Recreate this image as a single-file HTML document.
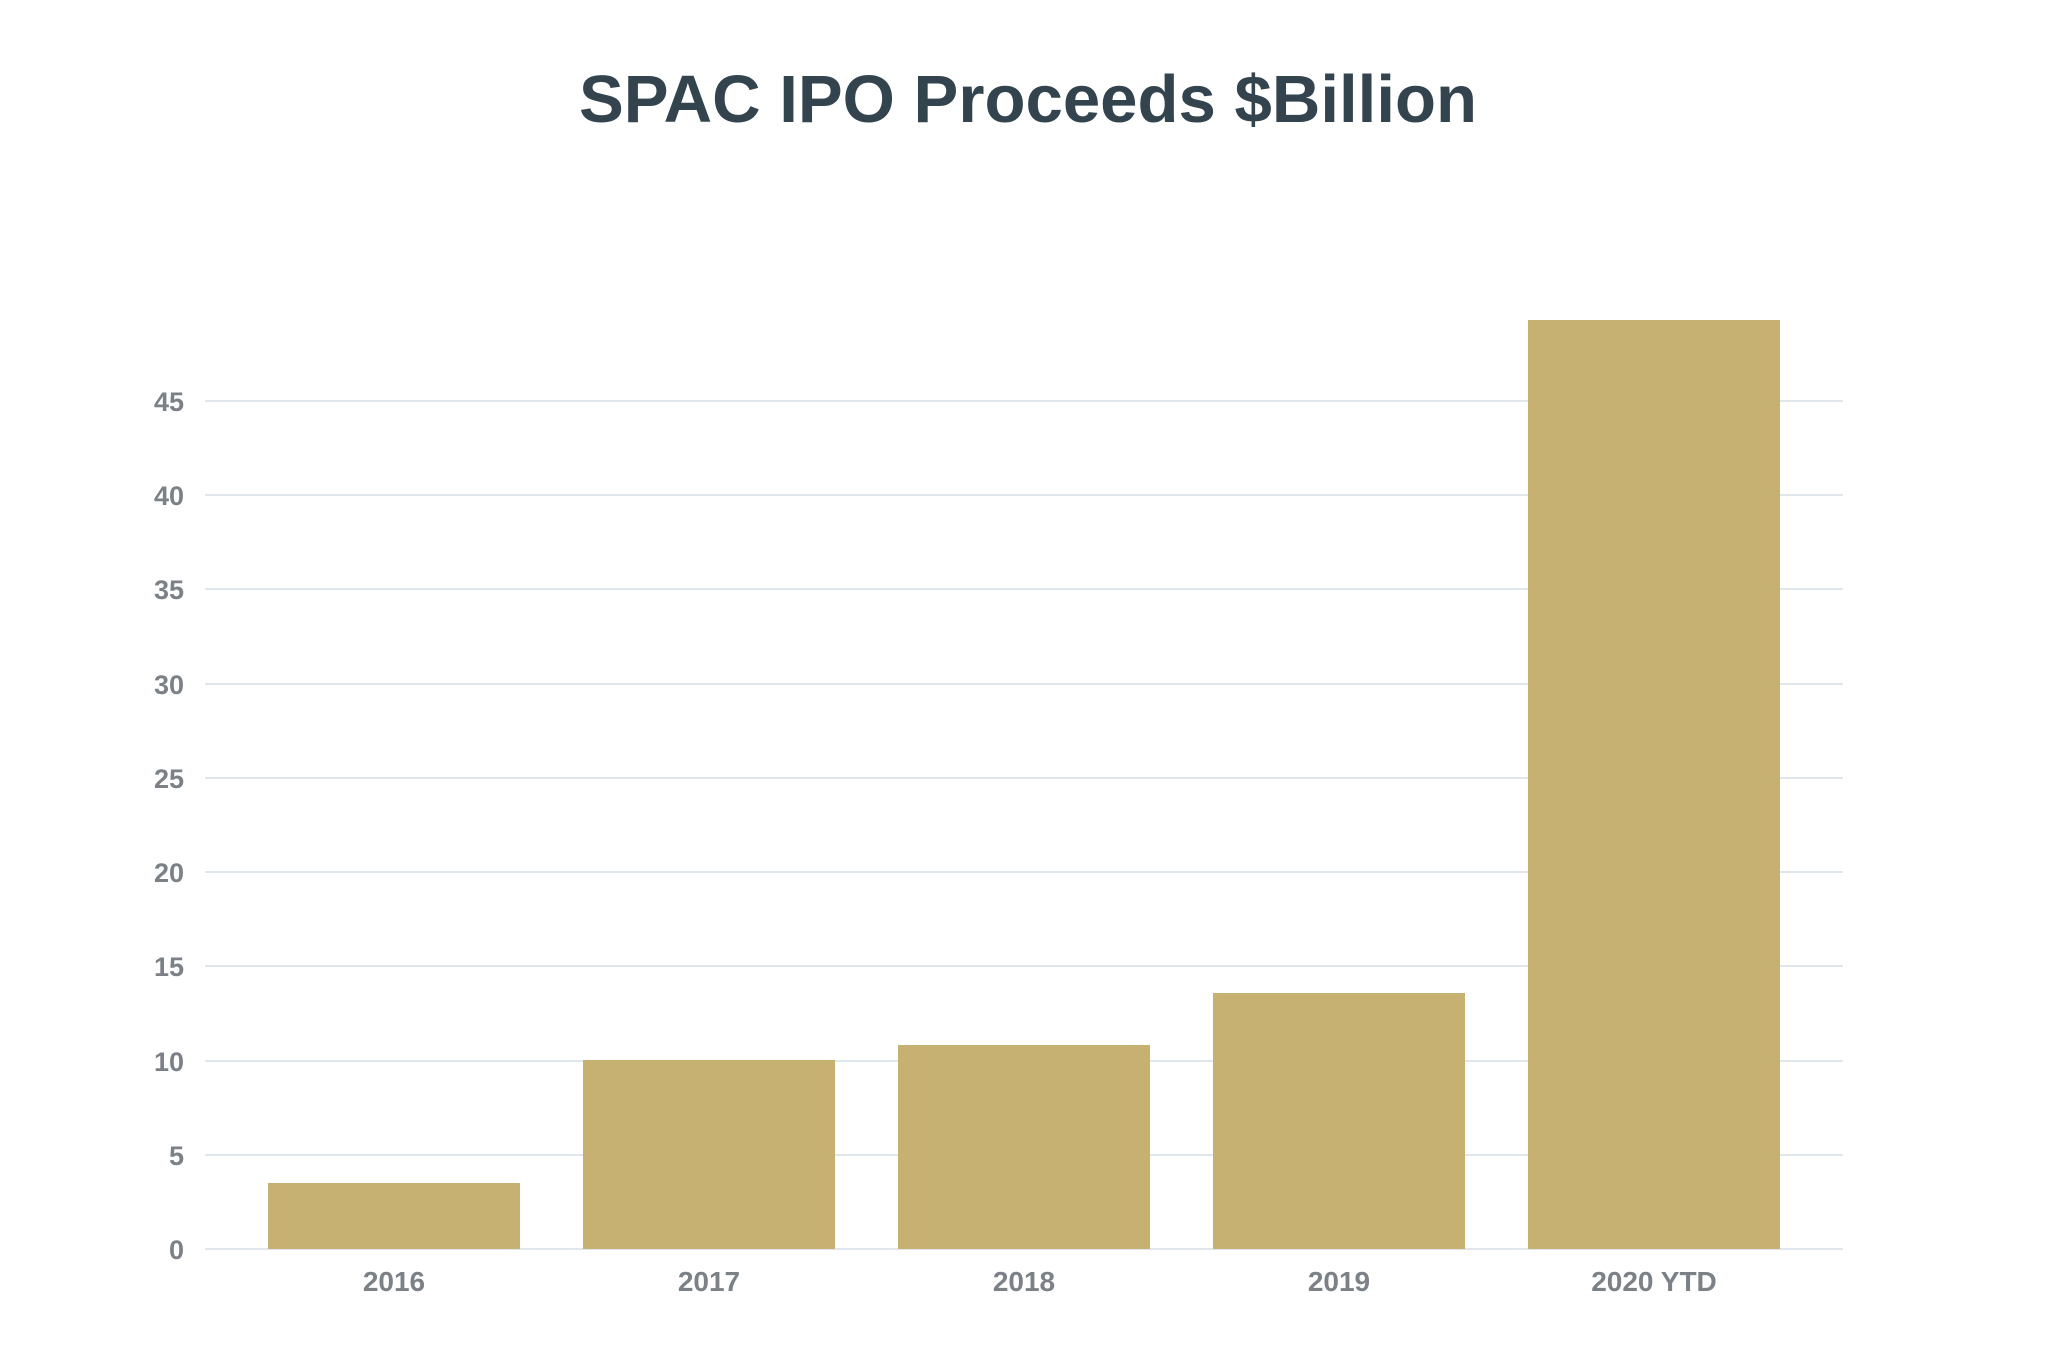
<!DOCTYPE html>
<html><head><style>
body{margin:0;background:#fff;}
</style></head><body>
<svg width="2048" height="1364" xmlns="http://www.w3.org/2000/svg" style="display:block">
<rect width="2048" height="1364" fill="#fff"/>
<text x="1028" y="122" text-anchor="middle" font-family="Liberation Sans, sans-serif" font-weight="bold" font-size="67" fill="#33444e" textLength="898" lengthAdjust="spacingAndGlyphs">SPAC IPO Proceeds $Billion</text>
<g stroke="#dfe6ec" stroke-width="2">
<line x1="205" x2="1843" y1="401" y2="401"/>
<line x1="205" x2="1843" y1="495" y2="495"/>
<line x1="205" x2="1843" y1="589" y2="589"/>
<line x1="205" x2="1843" y1="684" y2="684"/>
<line x1="205" x2="1843" y1="778" y2="778"/>
<line x1="205" x2="1843" y1="872" y2="872"/>
<line x1="205" x2="1843" y1="966" y2="966"/>
<line x1="205" x2="1843" y1="1061" y2="1061"/>
<line x1="205" x2="1843" y1="1155" y2="1155"/>
<line x1="205" x2="1843" y1="1249" y2="1249"/>
</g>
<g font-family="Liberation Sans, sans-serif" font-weight="bold" font-size="27" fill="#7b8187" text-anchor="end">
<text x="184" y="411">45</text>
<text x="184" y="505">40</text>
<text x="184" y="599">35</text>
<text x="184" y="694">30</text>
<text x="184" y="788">25</text>
<text x="184" y="882">20</text>
<text x="184" y="976">15</text>
<text x="184" y="1071">10</text>
<text x="184" y="1165">5</text>
<text x="184" y="1259">0</text>
</g>
<g fill="#c6b172">
<rect x="268" y="1183" width="252" height="66"/>
<rect x="583" y="1060" width="252" height="189"/>
<rect x="898" y="1045" width="252" height="204"/>
<rect x="1213" y="993" width="252" height="256"/>
<rect x="1528" y="320" width="252" height="929"/>
</g>
<g font-family="Liberation Sans, sans-serif" font-weight="bold" font-size="28" fill="#7b8187" text-anchor="middle">
<text x="394" y="1291">2016</text>
<text x="709" y="1291">2017</text>
<text x="1024" y="1291">2018</text>
<text x="1339" y="1291">2019</text>
<text x="1654" y="1291">2020 YTD</text>
</g>
</svg>
</body></html>
